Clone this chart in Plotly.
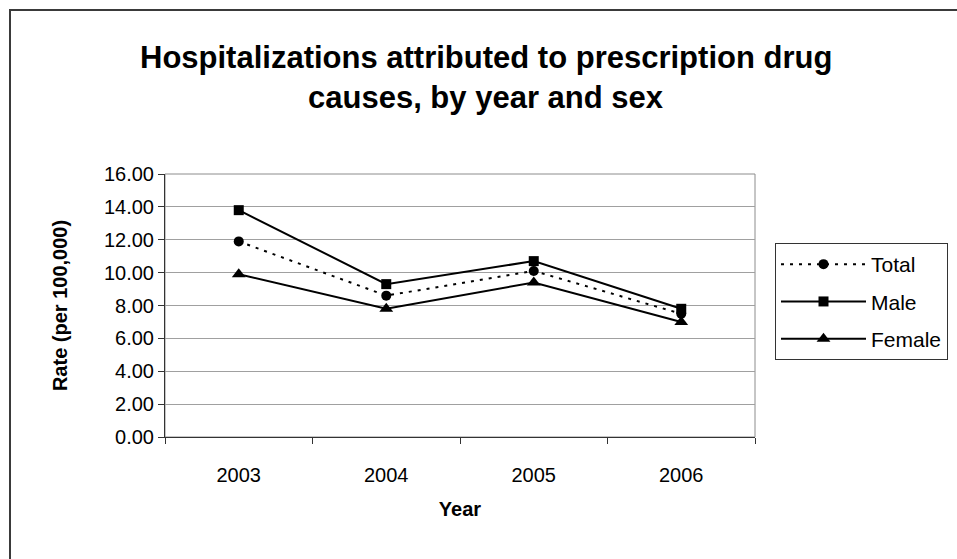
import plotly.graph_objects as go

# Hospitalization rates per 100,000 by year and sex
years = ["2003", "2004", "2005", "2006"]
total = [11.9, 8.6, 10.1, 7.5]
male = [13.8, 9.3, 10.7, 7.8]
female = [9.9, 7.8, 9.4, 7.0]
y_ticks = [0, 2, 4, 6, 8, 10, 12, 14, 16]

FONT = "Liberation Sans, Arial, sans-serif"
W, H = 957, 559
L, R, T, B = 165, 202, 174, 122

fig = go.Figure()

fig.add_trace(go.Scatter(
    x=years, y=female, name="Female", mode="lines+markers",
    line=dict(color="black", width=2),
    marker=dict(symbol="triangle-up", size=12, color="black"),
    legendrank=3, legendgroup="female",
))
fig.add_trace(go.Scatter(
    x=years, y=male, name="Male", mode="lines+markers",
    line=dict(color="black", width=2),
    marker=dict(symbol="square", size=10, color="black"),
    legendrank=2, legendgroup="male",
))
fig.add_trace(go.Scatter(
    x=years, y=total, name="Total", mode="lines+markers",
    line=dict(color="black", width=2, dash="3px,6px"),
    marker=dict(symbol="circle", size=10, color="black"),
    legendrank=1, legendgroup="total",
))

pw = W - L - R
ph = H - T - B

def px_x(p):
    return (p - L) / pw

def px_y(p):
    return 1 - (p - T) / ph

shapes = [
    # plot-area frame (light gray on top/right)
    dict(type="rect", xref="paper", yref="paper", x0=0, x1=1, y0=0, y1=1,
         line=dict(color="#8c8c8c", width=1), layer="below"),
    # outer chart border
    dict(type="rect", xref="paper", yref="paper",
         x0=px_x(10), x1=px_x(W + 40), y0=px_y(H + 40), y1=px_y(10),
         line=dict(color="#3a3a3a", width=2), layer="below"),
]

annotations = [
    dict(text="<b>Hospitalizations attributed to prescription drug</b>",
         xref="paper", yref="paper", x=px_x(486), y=px_y(57),
         xanchor="center", yanchor="middle", showarrow=False,
         font=dict(family=FONT, size=31, color="black")),
    dict(text="<b>causes, by year and sex</b>",
         xref="paper", yref="paper", x=px_x(486), y=px_y(97),
         xanchor="center", yanchor="middle", showarrow=False,
         font=dict(family=FONT, size=31, color="black")),
]

fig.update_layout(
    width=W, height=H,
    margin=dict(l=L, r=R, t=T, b=B, autoexpand=False),
    paper_bgcolor="white", plot_bgcolor="white",
    font=dict(family=FONT, size=20, color="black"),
    shapes=shapes, annotations=annotations,
    showlegend=True,
    legend=dict(
        x=px_x(775), y=px_y(243), xanchor="left", yanchor="top",
        bordercolor="#333333", borderwidth=1, bgcolor="white",
        font=dict(family=FONT, size=21, color="black"),
        tracegroupgap=7, itemwidth=85,
        entrywidth=200, entrywidthmode="pixels",
    ),
)

fig.update_xaxes(
    type="category", range=[-0.5, 3.5],
    showline=True, linecolor="#333333", linewidth=1,
    ticks="outside", ticklen=6, tickcolor="#333333", tickson="boundaries",
    showgrid=False, ticklabelstandoff=20,
    tickfont=dict(family=FONT, size=20, color="black"),
    title=dict(text="<b>Year</b>", standoff=16,
               font=dict(family=FONT, size=20, color="black")),
)
fig.update_yaxes(
    range=[0, 16], tickvals=y_ticks, tickformat=".2f",
    showline=True, linecolor="#333333", linewidth=1,
    ticks="outside", ticklen=6, tickcolor="#333333",
    showgrid=True, gridcolor="#a0a0a0", gridwidth=1,
    zeroline=False,
    tickfont=dict(family=FONT, size=20, color="black"),
    title=dict(text="<b>Rate (per 100,000)</b>", standoff=30,
               font=dict(family=FONT, size=20, color="black")),
)

fig.write_html("out.html")
